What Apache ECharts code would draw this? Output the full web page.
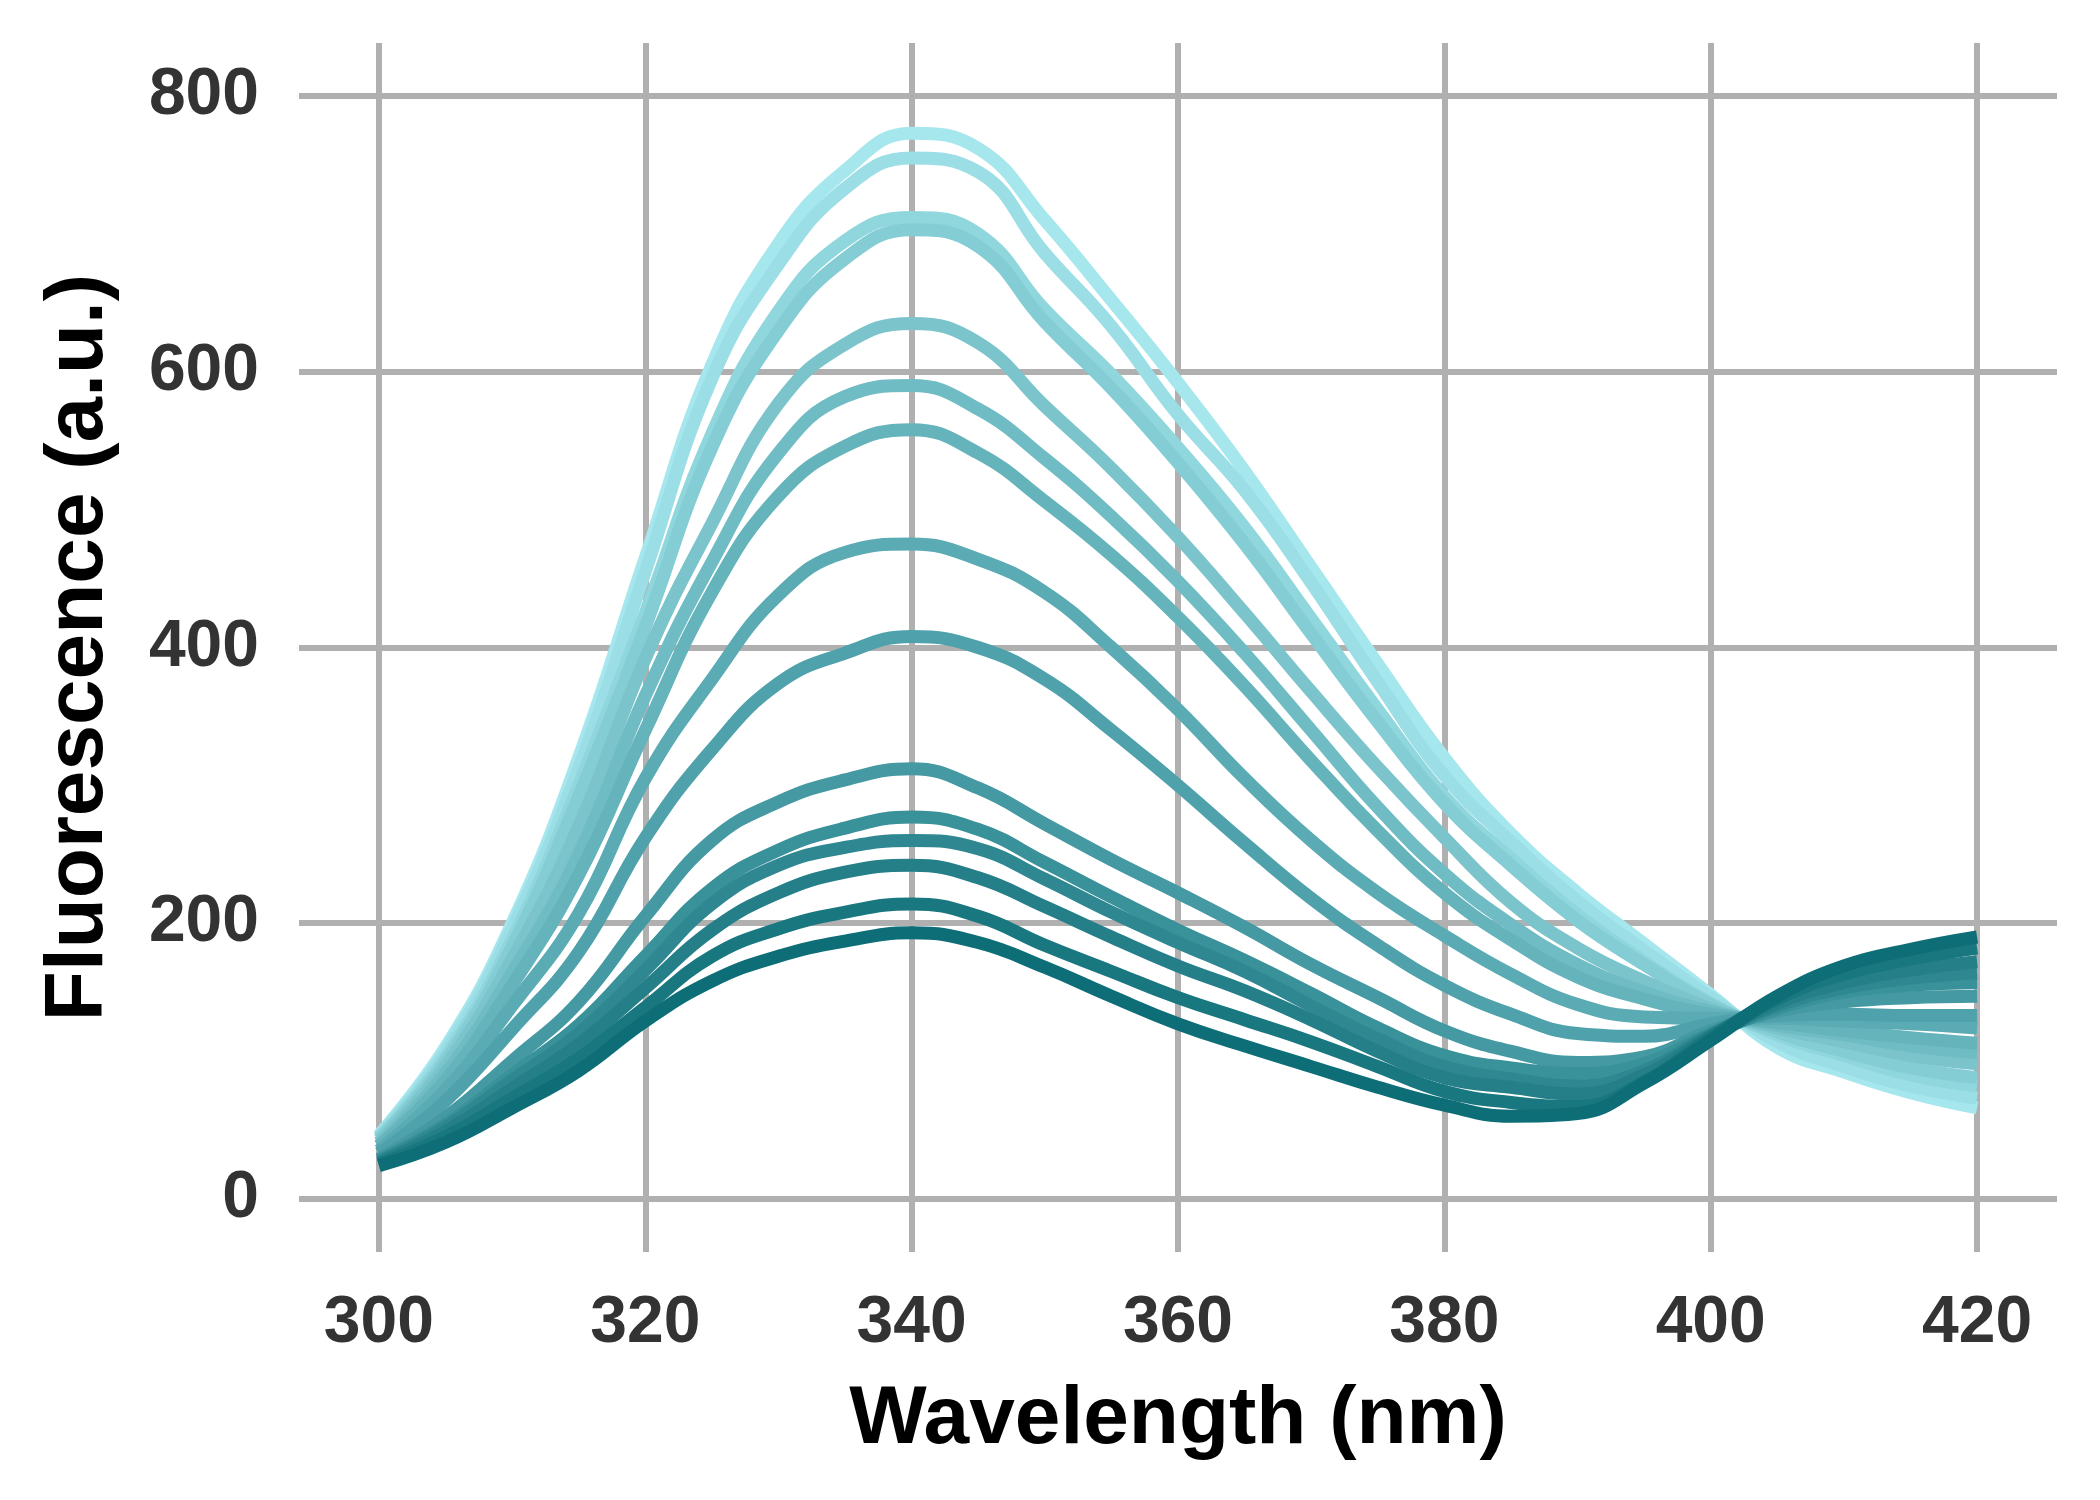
<!DOCTYPE html>
<html>
<head>
<meta charset="utf-8">
<script src="https://cdn.jsdelivr.net/npm/echarts@6/dist/echarts.min.js"></script>
<style>
html,body{margin:0;padding:0;background:#fff;}
#chart{width:2100px;height:1500px;}
</style>
</head>
<body>
<div id="chart"></div>
<script>
// Wavelength grid (nm)
const wavelengths = [300,305,310,315,320,325,330,335,340,345,350,355,360,365,370,375,380,385,390,395,400,405,410,415,420];
const xTicks = [300,320,340,360,380,400,420];
const yTicks = [0,200,400,600,800];

// Spectra, ordered from lightest (highest peak) to darkest (lowest peak)
const spec01 = [46,110,200,320,465,605,693,746,773,762,710,652,592,528,458,388,320,265,222,185,148,110,92,77,66];
const spec02 = [45,107,196,312,455,595,678,733,755,745,686,633,569,514,447,375,307,259,216,180,146,114,96,82,73];
const spec03 = [44,103,188,300,425,555,644,695,712,700,645,598,545,487,421,355,292,247,206,172,142,119,104,90,82];
const spec04 = [43,100,183,292,415,545,630,682,703,691,636,588,534,475,410,346,287,242,202,170,141,121,107,95,88];
const spec05 = [41,96,174,270,392,490,577,620,635,621,575,530,480,425,368,313,262,215,182,158,138,124,114,104,98];
const spec06 = [39,91,164,250,365,462,541,582,590,573,537,495,448,396,340,284,236,199,170,150,136,126,119,111,106];
const spec07 = [38,86,155,235,340,440,510,546,558,541,506,467,422,372,318,267,222,188,161,145,134,128,122,117,113];
const spec08 = [35,79,140,207,305,377,438,469,475,464,440,400,355,305,260,222,191,163,141,132,131,131,129,127,124];
const spec09 = [33,71,123,179,262,326,374,396,408,400,377,340,300,258,218,184,155,134,120,118,127,133,134,133,133];
const spec10 = [29,59,100,143,205,260,288,304,312,298,272,246,222,197,170,146,122,107,99,103,122,136,143,146,147];
const spec11 = [28,54,90,126,176,225,253,269,277,268,244,219,195,173,149,124,104,95,91,98,120,138,150,155,157];
const spec12 = [27,52,86,120,166,214,242,255,260,254,232,208,186,165,140,116,96,87,82,93,119,140,153,160,164];
const spec13 = [26,49,80,112,153,195,222,237,242,233,212,190,169,151,130,107,88,81,76,90,118,142,157,166,172];
const spec14 = [25,45,73,102,139,176,196,208,214,205,184,165,146,130,114,96,78,70,67,85,117,145,163,174,182];
const spec15 = [24,41,66,93,129,158,176,187,193,186,168,147,127,111,96,81,68,60,62,84,115,147,169,181,190];

const spectra = [spec01,spec02,spec03,spec04,spec05,spec06,spec07,spec08,spec09,spec10,spec11,spec12,spec13,spec14,spec15];

const light = [166,231,238], dark = [14,110,120];
function colorAt(t){
  const c = light.map((v,i)=>Math.round(v+(dark[i]-v)*t));
  return 'rgb('+c.join(',')+')';
}

const gridStyle = {color:'#b0b0b0', width:6, type:'solid'};
const series = [{
  type:'line', data:[], silent:true,
  markLine:{
    z:1, silent:true, symbol:['none','none'], animation:false,
    label:{show:false}, emphasis:{disabled:true},
    lineStyle:gridStyle,
    data: xTicks.map(v=>({xAxis:v})).concat(yTicks.map(v=>({yAxis:v})))
  }
}];
spectra.forEach((arr,k)=>{
  series.push({
    type:'line', z:2+k, showSymbol:false, smooth:0.45, silent:true,
    lineStyle:{width:13, color:colorAt(k/(spectra.length-1))},
    itemStyle:{color:colorAt(k/(spectra.length-1))},
    data: wavelengths.map((w,i)=>[w, arr[i]])
  });
});

const font = 'Liberation Sans, Arial, Helvetica, sans-serif';
const chart = echarts.init(document.getElementById('chart'), null, {renderer:'canvas'});
chart.setOption({
  animation:false,
  backgroundColor:'#ffffff',
  grid:{left:299, top:43, width:1758, height:1209, containLabel:false},
  xAxis:{
    type:'value', min:294, max:426,
    axisLine:{show:false}, axisTick:{show:false}, splitLine:{show:false},
    axisLabel:{customValues:xTicks, fontSize:66, fontWeight:'bold', color:'#333333', fontFamily:font, margin:39},
    name:'Wavelength (nm)', nameLocation:'middle', nameGap:127,
    nameTextStyle:{fontSize:82, fontWeight:'bold', color:'#000000', fontFamily:font}
  },
  yAxis:{
    type:'value', min:-38.5, max:838.5,
    axisLine:{show:false}, axisTick:{show:false}, splitLine:{show:false},
    axisLabel:{customValues:yTicks, fontSize:66, fontWeight:'bold', color:'#333333', fontFamily:font, margin:40},
    name:'Fluorescence (a.u.)', nameLocation:'middle', nameGap:179, nameRotate:90,
    nameTextStyle:{fontSize:82, fontWeight:'bold', color:'#000000', fontFamily:font}
  },
  series:series
});
</script>
</body>
</html>
